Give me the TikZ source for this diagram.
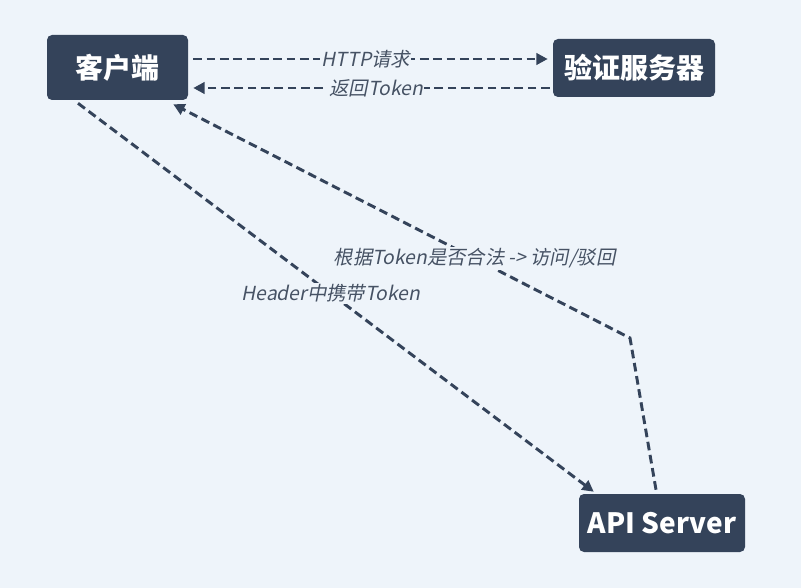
\documentclass[tikz,border=0pt]{standalone}
\usepackage{fontspec}
\setmainfont{Noto Sans CJK SC}
\newfontfamily\boxfont{Noto Sans CJK SC}
\newfontfamily\labfont[FakeSlant=0.2]{Noto Sans CJK SC}
\usetikzlibrary{arrows.meta,calc}
\definecolor{bg}{HTML}{EEF4FA}
\definecolor{boxc}{HTML}{34435A}
\definecolor{labc}{HTML}{465264}
\tikzset{
  box/.style={fill=boxc,rounded corners=3.75pt,text=white,font=\boxfont\bfseries\fontsize{21pt}{24pt}\selectfont,inner sep=0pt,align=center},
  conn/.style={draw=boxc,line width=2.2pt,dash pattern=on 6.5pt off 3.5pt,-{Triangle[length=8.5pt,width=8.5pt]}},
  lab/.style={fill=bg,text=labc,font=\labfont\fontsize{14.5pt}{16pt}\selectfont,inner sep=1pt}
}
\begin{document}
\begin{tikzpicture}[x=0.75pt,y=-0.75pt]
\fill[bg] (0,0) rectangle (801,588);
\useasboundingbox (0,0) rectangle (801,588);
\node[box,minimum width=105.75pt,minimum height=48.75pt] (c) at (117.5,67.5) {客户端};
\node[box,minimum width=121.5pt,minimum height=43.5pt] (v) at (634,68) {验证服务器};
\node[box,minimum width=124.5pt,minimum height=43.5pt] (a) at (662,523) {API Server};
\coordinate (bend) at (630,338);
\draw[conn] ([shift={(5,-8.5)}]c.east) -- node[lab,pos=0.487] (l1) {HTTP请求} ([shift={(-5,-9)}]v.west);
\draw[conn] ([shift={(-3,20)}]v.west) -- node[lab,pos=0.487] (l2) {返回Token} ([shift={(5,20.5)}]c.east);
\draw[conn] ([shift={(-39.5,3)}]c.south) -- node[lab,pos=0.49] (l3) {Header中携带Token} ([shift={(15,-2)}]a.north west);
\draw[conn] ([shift={(-6,-4)}]a.north) -- (bend) -- node[lab,pos=0.34] (l4) {根据Token是否合法 -> 访问/驳回} ([shift={(-15,4)}]c.south east);
\end{tikzpicture}
\end{document}
